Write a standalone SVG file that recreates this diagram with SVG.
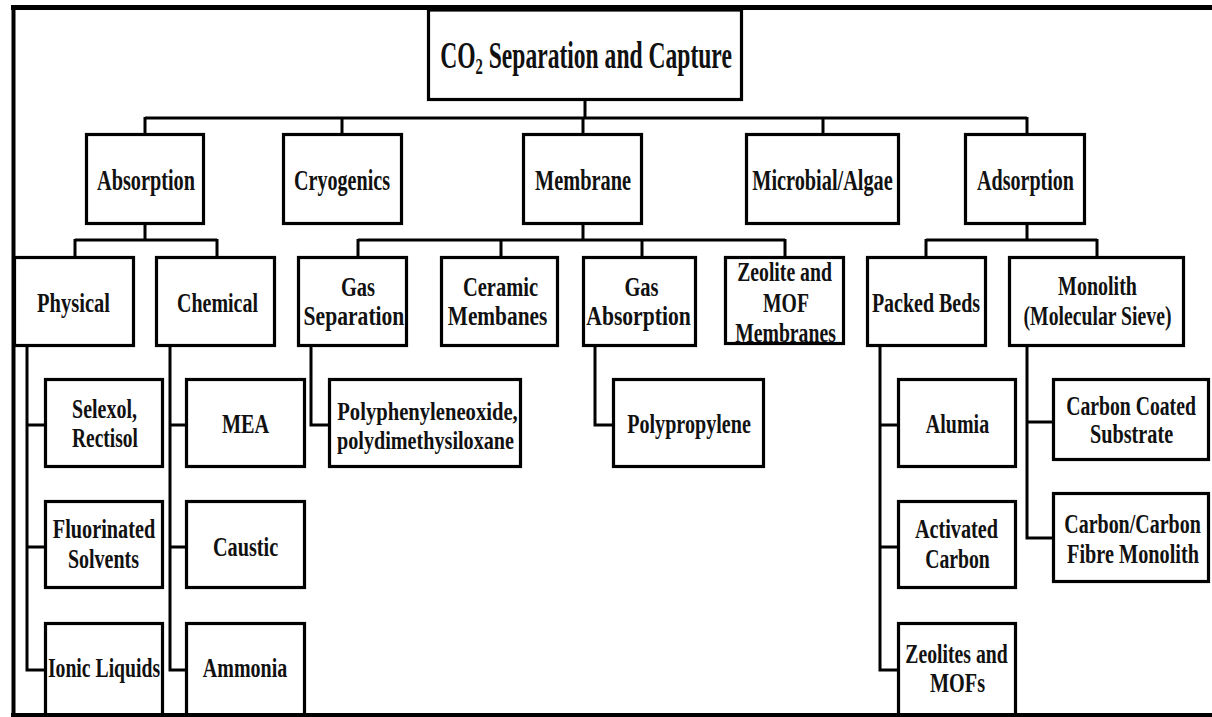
<svg xmlns="http://www.w3.org/2000/svg" width="1212" height="717" viewBox="0 0 1212 717">
<style>
  .box { fill: #fff; stroke: #000; stroke-width: 3.2; }
  .t { font-family: "Liberation Serif", "Times New Roman", serif; font-weight: bold; font-size: 27px; fill: #111; text-anchor: middle; }
  .t1 { font-size: 29px; }
  .t2 { font-size: 25px; }
  .root { font-size: 37px; }
  .con { fill: none; stroke: #000; stroke-width: 3; }
  .frame { fill: none; stroke: #000; }
</style>
<rect x="0" y="0" width="1212" height="717" fill="#fff"/>
<g id="connectors" class="con">
  <path d="M585 100 V118 M145 118 H1027 M145 117 V134 M342 117 V134 M583 117 V134 M823 117 V134 M1027 117 V134"/>
  <path d="M145 224 V240 M75 240 H217 M75 239 V257 M217 239 V257"/>
  <path d="M583 224 V240 M358 240 H785 M358 239 V257 M501 239 V257 M642 239 V257 M785 239 V257"/>
  <path d="M1027 224 V240 M926 240 H1097 M926 239 V257 M1097 239 V257"/>
  <path d="M27 346 V670 H45 M27 425 H45 M27 547 H45"/>
  <path d="M170 346 V670 H185 M170 425 H185 M170 547 H185"/>
  <path d="M311 346 V425 H328"/>
  <path d="M595 346 V425 H612"/>
  <path d="M880 346 V670 H897 M880 425 H897 M880 547 H897"/>
  <path d="M1027 346 V538 H1052 M1027 422 H1052"/>
</g>
<g id="n-root"><rect class="box" x="428.5" y="10" width="313" height="89.5"/>
  <text class="t root" transform="translate(586,68) scale(0.637,1)">CO<tspan font-size="23" dy="6">2</tspan><tspan dy="-6"> Separation and Capture</tspan></text></g>
<g id="n-absorption"><rect class="box" x="86.5" y="134.5" width="117" height="89"/>
  <text class="t t1" transform="translate(146,190) scale(0.699,1)">Absorption</text></g>
<g id="n-cryogenics"><rect class="box" x="283.5" y="134.5" width="118" height="89"/>
  <text class="t t1" transform="translate(342,190) scale(0.693,1)">Cryogenics</text></g>
<g id="n-membrane"><rect class="box" x="523.5" y="134.5" width="118" height="89"/>
  <text class="t t1" transform="translate(583,190) scale(0.701,1)">Membrane</text></g>
<g id="n-microbial"><rect class="box" x="746.5" y="134.5" width="152" height="89"/>
  <text class="t t1" transform="translate(822.5,190) scale(0.7,1)">Microbial/Algae</text></g>
<g id="n-adsorption"><rect class="box" x="965.5" y="134.5" width="119" height="89"/>
  <text class="t t1" transform="translate(1025.5,190) scale(0.692,1)">Adsorption</text></g>
<g id="n-physical"><rect class="box" x="14.5" y="257.5" width="119" height="88"/>
  <text class="t" transform="translate(73.5,312) scale(0.76,1)">Physical</text></g>
<g id="n-chemical"><rect class="box" x="156.5" y="257.5" width="118" height="88"/>
  <text class="t" transform="translate(217.5,312) scale(0.74,1)">Chemical</text></g>
<g id="n-gassep"><rect class="box" x="298.5" y="257.5" width="108" height="88"/>
  <text class="t" transform="translate(358,296) scale(0.76,1)">Gas</text>
  <text class="t" transform="translate(354,325) scale(0.8,1)">Separation</text></g>
<g id="n-ceramic"><rect class="box" x="441.5" y="257.5" width="116" height="88"/>
  <text class="t" transform="translate(500.5,296) scale(0.76,1)">Ceramic</text>
  <text class="t" transform="translate(497.5,325) scale(0.79,1)">Membanes</text></g>
<g id="n-gasabs"><rect class="box" x="583.5" y="257.5" width="112" height="88"/>
  <text class="t" transform="translate(641.5,296) scale(0.76,1)">Gas</text>
  <text class="t" transform="translate(638.5,325) scale(0.8,1)">Absorption</text></g>
<g id="n-zeolitemof"><rect class="box" x="725.5" y="257.5" width="118" height="86"/>
  <text class="t" transform="translate(784.5,281) scale(0.73,1)">Zeolite and</text>
  <text class="t" transform="translate(786,312) scale(0.73,1)">MOF</text>
  <text class="t" transform="translate(785.5,342) scale(0.73,1)">Membranes</text></g>
<g id="n-packed"><rect class="box" x="867.5" y="257.5" width="118" height="88"/>
  <text class="t" transform="translate(926,312) scale(0.74,1)">Packed Beds</text></g>
<g id="n-monolith"><rect class="box" x="1009.5" y="257.5" width="174" height="88"/>
  <text class="t" transform="translate(1097.5,295) scale(0.74,1)">Monolith</text>
  <text class="t" transform="translate(1097.5,325) scale(0.73,1)">(Molecular Sieve)</text></g>
<g id="n-selexol"><rect class="box" x="45.5" y="379.5" width="117" height="87"/>
  <text class="t" transform="translate(104.5,418) scale(0.74,1)">Selexol,</text>
  <text class="t" transform="translate(105,447) scale(0.72,1)">Rectisol</text></g>
<g id="n-fluorinated"><rect class="box" x="45.5" y="501.5" width="117" height="86"/>
  <text class="t" transform="translate(104,538) scale(0.75,1)">Fluorinated</text>
  <text class="t" transform="translate(103.5,568) scale(0.74,1)">Solvents</text></g>
<g id="n-ionic"><rect class="box" x="45.5" y="623.5" width="117" height="95"/>
  <text class="t" transform="translate(104,677) scale(0.73,1)">Ionic Liquids</text></g>
<g id="n-mea"><rect class="box" x="186.5" y="379.5" width="118" height="87"/>
  <text class="t" transform="translate(245.5,433) scale(0.75,1)">MEA</text></g>
<g id="n-caustic"><rect class="box" x="186.5" y="501.5" width="118" height="86"/>
  <text class="t" transform="translate(245.5,556) scale(0.75,1)">Caustic</text></g>
<g id="n-ammonia"><rect class="box" x="186.5" y="623.5" width="118" height="95"/>
  <text class="t" transform="translate(245,677) scale(0.74,1)">Ammonia</text></g>
<g id="n-polyphenyl"><rect class="box" x="329.5" y="379.5" width="191" height="87"/>
  <text class="t t2" transform="translate(427.5,420) scale(0.826,1)">Polyphenyleneoxide,</text>
  <text class="t t2" transform="translate(425.5,449) scale(0.807,1)">polydimethysiloxane</text></g>
<g id="n-polypropylene"><rect class="box" x="613.5" y="379.5" width="150" height="87"/>
  <text class="t" transform="translate(689,433) scale(0.745,1)">Polypropylene</text></g>
<g id="n-alumia"><rect class="box" x="898.5" y="379.5" width="117" height="87"/>
  <text class="t" transform="translate(957.5,433) scale(0.74,1)">Alumia</text></g>
<g id="n-activated"><rect class="box" x="898.5" y="501.5" width="117" height="86"/>
  <text class="t" transform="translate(956.5,538) scale(0.75,1)">Activated</text>
  <text class="t" transform="translate(957.5,568) scale(0.73,1)">Carbon</text></g>
<g id="n-zeolites"><rect class="box" x="898.5" y="623.5" width="117" height="95"/>
  <text class="t" transform="translate(956.5,663) scale(0.73,1)">Zeolites and</text>
  <text class="t" transform="translate(957.5,692) scale(0.75,1)">MOFs</text></g>
<g id="n-carboncoated"><rect class="box" x="1053.5" y="379.5" width="155" height="80"/>
  <text class="t" transform="translate(1131,415) scale(0.73,1)">Carbon Coated</text>
  <text class="t" transform="translate(1131.5,443) scale(0.75,1)">Substrate</text></g>
<g id="n-carboncarbon"><rect class="box" x="1053.5" y="493.5" width="155" height="88"/>
  <text class="t" transform="translate(1132.5,533) scale(0.74,1)">Carbon/Carbon</text>
  <text class="t" transform="translate(1133,563) scale(0.75,1)">Fibre Monolith</text></g>
<g id="frame" class="frame">
  <line x1="11" y1="7.5" x2="1212" y2="7.5" stroke-width="5"/>
  <line x1="13.5" y1="5" x2="13.5" y2="717" stroke-width="4"/>
  <line x1="11" y1="715" x2="1212" y2="715" stroke-width="4"/>
</g>
</svg>
